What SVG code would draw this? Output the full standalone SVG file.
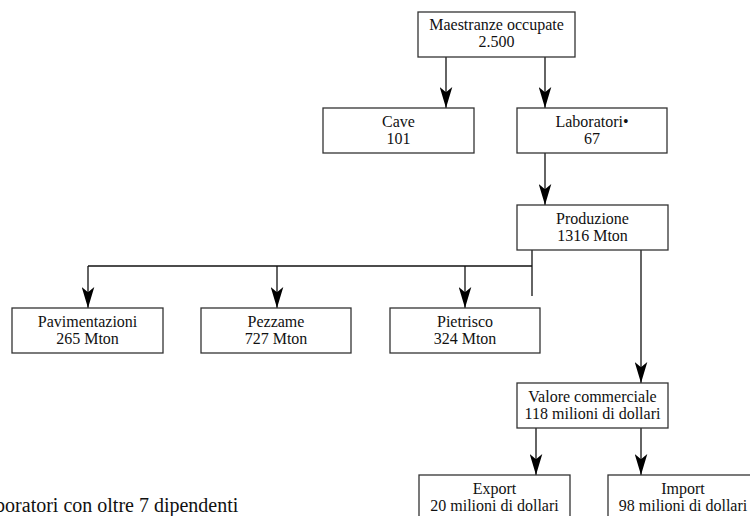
<svg xmlns="http://www.w3.org/2000/svg" width="750" height="516" viewBox="0 0 750 516">
<defs>
<marker id="ah" viewBox="0 0 20 12" refX="20" refY="6" markerWidth="21" markerHeight="13" markerUnits="userSpaceOnUse" orient="auto">
<path d="M0,0 L20,6 L0,12 L5,6 Z" fill="#000"/>
</marker>
<style>
.box{fill:#fff;stroke:#333;stroke-width:1.3}
.t{font-family:"Liberation Serif","Times New Roman",serif;font-size:16px;fill:#111;text-anchor:middle}
.c{fill:none;stroke:#111;stroke-width:1.3}
.a{marker-end:url(#ah)}
</style>
</defs>
<rect width="750" height="516" fill="#fff"/>
<g id="connectors">
<line class="c a" x1="446" y1="57" x2="446" y2="108"/>
<line class="c a" x1="545" y1="57" x2="545" y2="108"/>
<line class="c a" x1="545" y1="153" x2="545" y2="205"/>
<line class="c" x1="532" y1="250" x2="532" y2="296"/>
<line class="c" x1="532" y1="266" x2="88" y2="266"/>
<line class="c a" x1="88" y1="266" x2="88" y2="308"/>
<line class="c a" x1="277" y1="266" x2="277" y2="308"/>
<line class="c a" x1="465" y1="266" x2="465" y2="308"/>
<line class="c a" x1="641" y1="250" x2="641" y2="383"/>
<line class="c a" x1="536" y1="428" x2="536" y2="475"/>
<line class="c a" x1="641" y1="428" x2="641" y2="475"/>
</g>
<g id="maestranze">
<rect class="box" x="418" y="12" width="157" height="45"/>
<text class="t" x="496.5" y="30">Maestranze occupate</text>
<text class="t" x="496.5" y="47">2.500</text>
</g>
<g id="cave">
<rect class="box" x="323" y="108" width="151" height="45"/>
<text class="t" x="398.5" y="127">Cave</text>
<text class="t" x="398.5" y="144">101</text>
</g>
<g id="laboratori">
<rect class="box" x="517" y="108" width="150" height="45"/>
<text class="t" x="592" y="127">Laboratori•</text>
<text class="t" x="592" y="144">67</text>
</g>
<g id="produzione">
<rect class="box" x="517" y="205" width="151" height="45"/>
<text class="t" x="592.5" y="224">Produzione</text>
<text class="t" x="592.5" y="241">1316 Mton</text>
</g>
<g id="pavimentazioni">
<rect class="box" x="12" y="308" width="151" height="45"/>
<text class="t" x="87.5" y="327">Pavimentazioni</text>
<text class="t" x="87.5" y="344">265 Mton</text>
</g>
<g id="pezzame">
<rect class="box" x="201" y="308" width="150" height="45"/>
<text class="t" x="276" y="327">Pezzame</text>
<text class="t" x="276" y="344">727 Mton</text>
</g>
<g id="pietrisco">
<rect class="box" x="390" y="308" width="150" height="45"/>
<text class="t" x="465" y="327">Pietrisco</text>
<text class="t" x="465" y="344">324 Mton</text>
</g>
<g id="valore">
<rect class="box" x="517" y="383" width="151" height="45"/>
<text class="t" x="592.5" y="402">Valore commerciale</text>
<text class="t" x="592.5" y="419">118 milioni di dollari</text>
</g>
<g id="export">
<rect class="box" x="419" y="475" width="151" height="50"/>
<text class="t" x="494.5" y="494">Export</text>
<text class="t" x="494.5" y="511">20 milioni di dollari</text>
</g>
<g id="import">
<rect class="box" x="608" y="475" width="150" height="50"/>
<text class="t" x="683" y="494">Import</text>
<text class="t" x="683" y="511">98 milioni di dollari</text>
</g>
<text x="-38" y="512" style="font-family:'Liberation Serif','Times New Roman',serif;font-size:20px;fill:#111">• Laboratori con oltre 7 dipendenti</text>
</svg>
